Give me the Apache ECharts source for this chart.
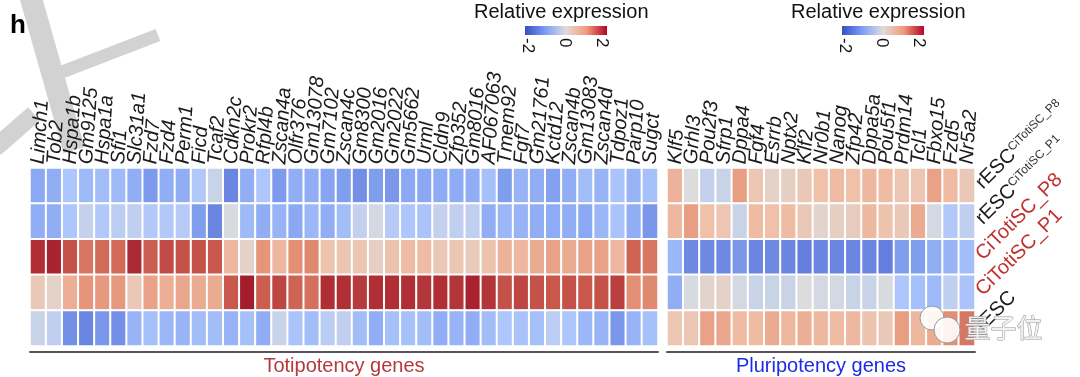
<!DOCTYPE html>
<html>
<head>
<meta charset="utf-8">
<script src="https://cdn.jsdelivr.net/npm/echarts@6/dist/echarts.min.js"></script>
<style>
  html, body { margin: 0; padding: 0; background: #fff; }
  #chart { width: 1080px; height: 377px; }
</style>
</head>
<body>
<div id="chart"></div>
<script>
// genes (columns)
const totiGenes = ['Limch1', 'Tob2', 'Hspa1b', 'Gm9125', 'Hspa1a', 'Sfi1', 'Slc31a1', 'Fzd7', 'Fzd4', 'Perm1',
  'Ficd', 'Tcaf2', 'Cdkn2c', 'Prokr2', 'Rfpl4b', 'Zscan4a', 'Olfr376', 'Gm13078', 'Gm7102', 'Zscan4c',
  'Gm8300', 'Gm2016', 'Gm2022', 'Gm5662', 'Urml', 'Cldn9', 'Zfp352', 'Gm8016', 'AF067063', 'Tmem92',
  'Fgf7', 'Gm21761', 'Kctd12', 'Zscan4b', 'Gm13083', 'Zscan4d', 'Tdpoz1', 'Parp10', 'Sugct']
const pluriGenes = ['Klf5', 'Grhl3', 'Pou2f3', 'Sfrp1', 'Dppa4', 'Fgf4', 'Esrrb', 'Nptx2', 'Klf2', 'Nr0b1',
  'Nanog', 'Zfp42', 'Dppa5a', 'Pou5f1', 'Prdm14', 'Tcl1', 'Fbxo15', 'Fzd5', 'Nr5a2']

// samples (rows, top to bottom); text after ^ is a superscript
const samples = ['rESC^CiTotiSC_P8', 'rESC^CiTotiSC_P1', 'CiTotiSC_P8', 'CiTotiSC_P1', 'rESC']

// relative expression, one array per sample
const totiValues = [
  [-1.0, -0.9, -0.5, -0.7, -0.65, -0.7, -0.9, -1.2, -0.9, -0.9, -0.45, -0.2, -1.5,
   -0.9, -0.5, -1.2, -0.9, -0.9, -1.05, -1.15, -1.35, -1.15, -1.25, -1.0, -1.0, -0.95,
   -0.95, -0.9, -0.6, -1.15, -0.8, -0.9, -1.1, -0.9, -0.65, -0.8, -0.55, -0.8, -0.6],
  [-0.9, -0.9, -0.5, -0.25, -0.45, -0.35, -0.3, -0.45, -0.45, -0.4, -1.15, -1.5, -0.05,
   -0.7, -0.9, -0.8, -1.0, -0.75, -0.9, -0.65, -0.25, -0.1, -0.4, -0.5, -0.55, -0.25,
   -0.3, -0.3, -0.9, -0.75, -0.8, -0.9, -0.95, -0.9, -1.0, -0.75, -0.55, -0.9, -1.25],
  [1.85, 1.95, 1.55, 1.25, 1.35, 1.35, 1.9, 1.45, 1.6, 1.55, 1.55, 1.5, 0.6,
   0.2, 1.0, 0.6, 1.05, 1.1, 0.45, 0.4, 0.4, 0.25, 0.45, 0.55, 0.55, 0.35,
   0.4, 0.3, 0.45, 0.65, 0.6, 0.75, 0.85, 0.75, 0.85, 0.85, 0.6, 1.4, 1.25],
  [0.35, 0.2, 0.7, 1.0, 0.95, 0.95, 0.35, 0.85, 0.7, 0.8, 0.75, 0.75, 1.5,
   2.0, 1.45, 1.65, 1.4, 1.3, 1.85, 1.85, 1.75, 1.85, 1.85, 1.85, 1.8, 1.85,
   1.8, 1.95, 1.8, 1.55, 1.65, 1.55, 1.5, 1.55, 1.5, 1.55, 1.7, 1.05, 1.1],
  [-0.2, -0.3, -1.35, -1.5, -1.25, -1.35, -0.8, -0.6, -0.75, -0.8, -0.65, -0.65, -0.8,
   -0.6, -0.9, -0.2, -0.55, -0.65, -0.35, -0.3, -0.65, -0.9, -0.6, -0.6, -0.65, -0.9,
   -0.8, -0.9, -0.65, -0.5, -0.55, -0.6, -0.35, -0.5, -0.75, -0.8, -1.25, -0.8, -0.6]
]
const pluriValues = [
  [0.65, 0.0, -0.25, -0.2, 0.9, 0.4, 0.2, 0.25, 0.35, 0.5, 0.55, 0.5, 0.6, 0.55, 0.4, 0.4, 0.85, 0.55, 0.35],
  [0.6, 0.9, 0.5, 0.4, -0.2, 0.55, 0.5, 0.55, 0.35, 0.15, 0.25, 0.3, 0.6, 0.45, 0.35, 0.75, -0.1, -0.45, -0.3],
  [-0.75, -1.45, -1.45, -1.45, -1.25, -1.5, -1.45, -1.5, -1.6, -1.5, -1.5, -1.5, -1.5, -1.6, -1.15, -1.15, -0.9, -0.8, -0.65],
  [-0.9, -0.05, 0.15, 0.2, -0.1, -0.2, -0.2, -0.2, 0.0, -0.1, -0.1, -0.2, -0.2, -0.05, -0.5, -0.6, -0.7, -0.3, -0.55],
  [0.4, 0.4, 0.85, 0.8, 0.55, 0.55, 0.75, 0.6, 0.7, 0.6, 0.55, 0.6, 0.45, 0.35, 0.9, 0.6, 0.75, 1.05, 1.25]
]

const legendTicks = [-2, 0, 2]

const toCells = (rows) => {
  const out = []
  rows.forEach((row, y) => row.forEach((v, x) => out.push([x, y, v])))
  return out
}

const chart = echarts.init(document.getElementById('chart'), null, { renderer: 'canvas' })

const font = 'Liberation Sans, Arial, sans-serif'
const cellColors = ['#4a62cf', '#6a86e0', '#8aa8f4', '#adc6fb', '#dcdcdc', '#f0c0a8', '#e6957a', '#c8584b', '#a41d2c']

// top axis: negative rotate makes the names read bottom-to-top, leaning a bit right
const geneLabel = {
  interval: 0,
  rotate: -86,
  margin: 4,
  fontSize: 20,
  fontStyle: 'italic',
  color: '#1a1a1a',
  fontFamily: font
}

const groupAxis = (name, color, data, grid) => ({
  type: 'category',
  gridIndex: grid,
  position: 'bottom',
  offset: 6,
  data: data,
  axisLine: { show: true, lineStyle: { color: '#555', width: 2 } },
  axisTick: { show: false },
  axisLabel: { show: false },
  name: name,
  nameLocation: 'middle',
  nameGap: 4,
  nameTextStyle: { color: color, fontSize: 20, fontFamily: font, verticalAlign: 'top' }
})

// legend bars, drawn as graphics
const legend = (cx) => {
  const x0 = cx - 41, w = 82
  const items = [
    {
      type: 'text', left: cx - 92, top: 2,
      style: { text: 'Relative expression', fontSize: 20, fontFamily: font, fill: '#111' }
    },
    {
      type: 'rect', shape: { x: x0, y: 26, width: w, height: 9 },
      style: {
        fill: new echarts.graphic.LinearGradient(0, 0, 1, 0, [
          { offset: 0, color: '#3b4cc0' },
          { offset: 0.25, color: '#7b9ff9' },
          { offset: 0.5, color: '#e0dcdc' },
          { offset: 0.75, color: '#f29a7c' },
          { offset: 1, color: '#b40426' }
        ])
      }
    }
  ]
  legendTicks.forEach(t => {
    const x = x0 + 3 + (t + 2) / 4 * (w - 8)
    items.push({
      type: 'text', x: x, y: 38, rotation: -Math.PI / 2,
      style: { text: String(t), fontSize: 17, fontFamily: font, fill: '#111', align: 'left', verticalAlign: 'middle' }
    })
  })
  return items
}

const option = {
  animation: false,
  backgroundColor: '#fff',
  grid: [
    { left: 30, top: 168, width: 628, height: 178 },
    { left: 667, top: 168, width: 308, height: 178 }
  ],
  xAxis: [
    { type: 'category', gridIndex: 0, position: 'top', data: totiGenes,
      axisLine: { show: false }, axisTick: { show: false }, axisLabel: geneLabel },
    groupAxis('Totipotency genes', '#b5383a', totiGenes, 0),
    { type: 'category', gridIndex: 1, position: 'top', data: pluriGenes,
      axisLine: { show: false }, axisTick: { show: false }, axisLabel: geneLabel },
    groupAxis('Pluripotency genes', '#1c2ce6', pluriGenes, 1)
  ],
  yAxis: [
    { type: 'category', gridIndex: 0, inverse: true, data: samples,
      axisLine: { show: false }, axisTick: { show: false }, axisLabel: { show: false } },
    { type: 'category', gridIndex: 1, inverse: true, position: 'right', data: samples,
      axisLine: { show: false }, axisTick: { show: false },
      axisLabel: {
        rotate: 45,
        margin: 4,
        fontFamily: font,
        formatter: (v) => {
          const [main, sup] = v.split('^')
          const st = main.indexOf('CiTotiSC') === 0 ? 'r' : 'k'
          return sup ? `{${st}|${main}}{s|${sup}}` : `{${st}|${main}}`
        },
        rich: {
          k: { color: '#1a1a1a', fontSize: 20, fontFamily: font },
          r: { color: '#c0302e', fontSize: 20, fontFamily: font },
          s: { color: '#333', fontSize: 12, fontFamily: font, verticalAlign: 'top' }
        }
      } }
  ],
  visualMap: {
    type: 'continuous',
    show: false,
    min: -2,
    max: 2,
    seriesIndex: [0, 1],
    inRange: { color: cellColors }
  },
  series: [
    {
      type: 'heatmap', xAxisIndex: 0, yAxisIndex: 0, data: toCells(totiValues),
      itemStyle: { borderColor: '#fff', borderWidth: 2 },
      emphasis: { disabled: true }
    },
    {
      type: 'heatmap', xAxisIndex: 2, yAxisIndex: 1, data: toCells(pluriValues),
      itemStyle: { borderColor: '#fff', borderWidth: 2 },
      emphasis: { disabled: true }
    }
  ],
  graphic: [
    // faint watermark strokes top-left
    { type: 'line', z: -1, shape: { x1: 30, y1: -5, x2: 74, y2: 150 }, style: { stroke: '#d2d2d2', lineWidth: 22 } },
    { type: 'line', z: -1, shape: { x1: 62, y1: 72, x2: 158, y2: 35 }, style: { stroke: '#d2d2d2', lineWidth: 13 } },
    { type: 'line', z: -1, shape: { x1: -5, y1: 148, x2: 34, y2: 114 }, style: { stroke: '#d2d2d2', lineWidth: 18 } },
    { type: 'text', left: 10, top: 13, style: { text: 'h', fontSize: 26, fontWeight: 'bold', fontFamily: font, fill: '#000' } },
    ...legend(566),
    ...legend(883),
    // wechat watermark
    { type: 'circle', z: 100, shape: { cx: 932, cy: 318, r: 12 }, style: { fill: 'rgba(255,255,255,0.9)', stroke: '#999', lineWidth: 1 } },
    { type: 'circle', z: 100, shape: { cx: 947, cy: 330, r: 13 }, style: { fill: 'rgba(255,255,255,0.9)', stroke: '#999', lineWidth: 1 } },
    { type: 'text', z: 100, left: 964, top: 315,
      style: { text: '量子位', fontSize: 26, fontFamily: 'Noto Sans CJK SC', fill: 'rgba(245,245,245,0.9)', stroke: '#999', lineWidth: 1 } }
  ]
}

chart.setOption(option)
</script>
</body>
</html>
